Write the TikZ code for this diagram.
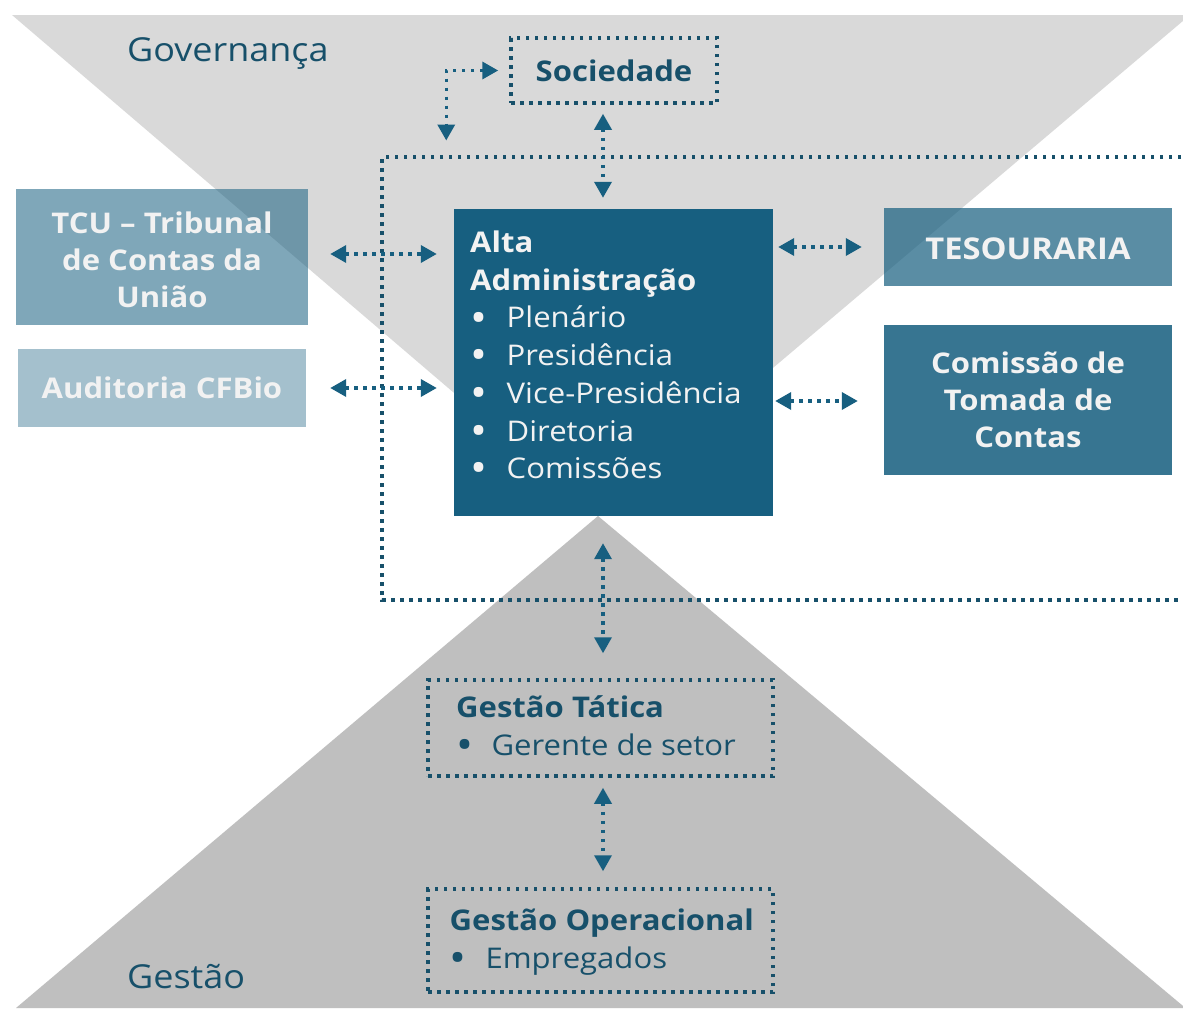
\documentclass[tikz,border=0pt]{standalone}
\usepackage{fontspec}
\setmainfont{Open Sans}[FakeStretch=1.09]
\usetikzlibrary{arrows.meta,calc}
\definecolor{dblue}{HTML}{175F80}
\definecolor{dtext}{HTML}{17506A}
\definecolor{lgrey}{HTML}{D9D9D9}
\definecolor{mgrey}{HTML}{BFBFBF}
\definecolor{wtext}{HTML}{F2F2F2}
\newcommand{\bul}[1]{\makebox[#1][l]{\raisebox{-0.15em}{\scalebox{1.45}{•}}}}
\newcommand{\hstrut}{\rule{0pt}{24pt}}
\begin{document}
\begin{tikzpicture}[x=1pt,y=-1pt,
  dotline/.style={draw=dtext, line width=3.5pt, dash pattern=on 3.5pt off 5.5pt},
  dotbox/.style={dotline, inner sep=0pt},
  link/.style={draw=dblue, line width=3.5pt, dash pattern=on 3.5pt off 5.5pt,
    {Triangle[length=16pt,width=17pt]}-{Triangle[length=16pt,width=17pt]}},
  solidbox/.style={fill=dblue, inner sep=0pt, text=wtext, align=center,
    font=\fontsize{28.5}{37}\selectfont\bfseries},
  listtxt/.style={anchor=north west, inner sep=0pt, align=left,
    font=\fontsize{28.5}{37.5}\selectfont},
  lbl/.style={text=dtext, font=\fontsize{33}{38}\selectfont, inner sep=0pt}]
\useasboundingbox (0,0) rectangle (1183,1009);
\fill[white] (0,0) rectangle (1183,1009);
\begin{scope}
\clip (0,0) rectangle (1183,1009);
\fill[lgrey] (12,15) -- (1190,15) -- (598,516) -- cycle;
\fill[mgrey] (16,1008) -- (598,516) -- (1195,1016) -- (1195,1008) -- cycle;
\draw[dotline] (1190,157) -- (382,157) -- (382,600) -- (1190,600);
\end{scope}

\node[lbl, anchor=base west] (gov) at (127,61) {Governança};
\node[lbl, anchor=base west] (ges) at (127,988) {Gestão};

\node[dotbox, minimum width=206pt, minimum height=65pt, text=dtext,
  font=\fontsize{28.5}{36}\selectfont\bfseries] (soc) at (614,70.5) {\rule{0pt}{23pt}Sociedade};

\node[fill=dblue, inner sep=0pt, minimum width=319pt, minimum height=307pt] (alta) at (613.5,362.5) {};
\node[listtxt, text=wtext, font=\fontsize{28.5}{37.7}\selectfont] (altatxt) at (470,228.3)
  {\hstrut\textbf{Alta}\\\textbf{Administração}\\
   \bul{36.5pt}Plenário\\
   \bul{36.5pt}Presidência\\
   \bul{36.5pt}Vice-Presidência\\
   \bul{36.5pt}Diretoria\\
   \bul{36.5pt}Comissões};

\node[solidbox, fill opacity=0.55, text opacity=1, minimum width=292pt, minimum height=136pt] (tcu) at (162,257)
  {\rule{0pt}{27pt}TCU – Tribunal\\de Contas da\\União};
\node[solidbox, fill opacity=0.39, text opacity=1, minimum width=288pt, minimum height=78pt] (aud) at (162,388)
  {Auditoria CFBio};
\node[solidbox, fill opacity=0.71, text opacity=1, minimum width=288pt, minimum height=78pt,
  font=\fontsize{30}{37}\selectfont\bfseries] (tes) at (1028,247)
  {\rule{0pt}{25.5pt}TESOURARIA};
\node[solidbox, fill opacity=0.86, text opacity=1, minimum width=288pt, minimum height=150pt] (com) at (1028,400)
  {Comissão de\\Tomada de\\Contas};

\node[dotbox, minimum width=345pt, minimum height=96pt] (tat) at (600.5,728) {};
\node[listtxt, text=dtext] (tattxt) at (456,693.5)
  {\hstrut\textbf{Gestão Tática}\\\bul{35.3pt}Gerente de setor};
\node[dotbox, minimum width=345pt, minimum height=103pt] (ope) at (600.5,940.5) {};
\node[listtxt, text=dtext] (opetxt) at (449.5,906.5)
  {\hstrut\textbf{Gestão Operacional}\\\bul{35.8pt}Empregados};

\draw[link] ($(soc.south)+(-11,9)$) -- ($(alta.north)+(-10.5,-11)$);
\draw[link] ($(soc.west)+(-11,0)$) -| ($(soc.west)+(-63,70)$);
\draw[link] ($(tcu.east)+(22,-3)$) -- ($(tcu.east -| alta.west)+(-17,-3)$);
\draw[link] ($(aud.east)+(24,0)$) -- ($(aud.east -| alta.west)+(-17,0)$);
\draw[link] ($(tes.west -| alta.east)+(5,0)$) -- ($(tes.west)+(-22,0)$);
\draw[link] ($(com.west -| alta.east)+(2,1)$) -- ($(com.west)+(-26,1)$);
\draw[link] ($(alta.south)+(-10.5,27)$) -- ($(tat.north)+(2.5,-25)$);
\draw[link] ($(tat.south)+(2.5,10)$) -- ($(ope.north)+(2.5,-16)$);
\end{tikzpicture}
\end{document}
